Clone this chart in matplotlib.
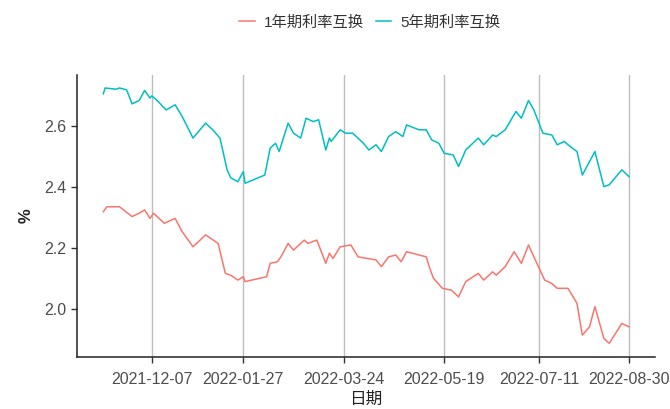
import matplotlib
matplotlib.use("Agg")
import matplotlib.pyplot as plt
import pandas as pd

plt.rcParams['font.family'] = ['Liberation Sans', 'Noto Sans CJK SC', 'DejaVu Sans']

# 1年期利率互换
dates_1y = ["2021-11-10", "2021-11-12", "2021-11-19", "2021-11-26", "2021-11-30", "2021-12-03",
            "2021-12-06", "2021-12-08", "2021-12-14", "2021-12-20", "2021-12-24", "2021-12-30",
            "2022-01-06", "2022-01-13", "2022-01-17", "2022-01-20", "2022-01-24", "2022-01-27",
            "2022-01-28", "2022-02-09", "2022-02-11", "2022-02-15", "2022-02-17", "2022-02-21",
            "2022-02-24", "2022-03-02", "2022-03-04", "2022-03-09", "2022-03-14", "2022-03-16",
            "2022-03-18", "2022-03-22", "2022-03-28", "2022-04-01", "2022-04-11", "2022-04-14",
            "2022-04-18", "2022-04-22", "2022-04-25", "2022-04-28", "2022-05-09", "2022-05-11",
            "2022-05-13", "2022-05-18", "2022-05-23", "2022-05-27", "2022-05-31", "2022-06-07",
            "2022-06-10", "2022-06-15", "2022-06-17", "2022-06-22", "2022-06-27", "2022-07-01",
            "2022-07-05", "2022-07-08", "2022-07-14", "2022-07-18", "2022-07-21", "2022-07-27",
            "2022-08-01", "2022-08-04", "2022-08-08", "2022-08-11", "2022-08-16", "2022-08-19",
            "2022-08-26", "2022-08-30"]
rate_1y = [2.319, 2.335, 2.335, 2.303, 2.314, 2.325,
           2.297, 2.314, 2.281, 2.297, 2.253, 2.204,
           2.243, 2.215, 2.117, 2.111, 2.095, 2.106,
           2.090, 2.106, 2.150, 2.155, 2.171, 2.215,
           2.193, 2.226, 2.215, 2.226, 2.150, 2.183,
           2.166, 2.204, 2.210, 2.171, 2.161, 2.139,
           2.171, 2.177, 2.155, 2.188, 2.171, 2.133,
           2.101, 2.068, 2.062, 2.040, 2.090, 2.117,
           2.095, 2.122, 2.111, 2.139, 2.188, 2.150,
           2.210, 2.171, 2.095, 2.084, 2.068, 2.068,
           2.019, 1.915, 1.942, 2.008, 1.904, 1.888,
           1.953, 1.942]

# 5年期利率互换
dates_5y = ["2021-11-10", "2021-11-11", "2021-11-17", "2021-11-19", "2021-11-23", "2021-11-26",
            "2021-11-30", "2021-12-03", "2021-12-06", "2021-12-07", "2021-12-10", "2021-12-15",
            "2021-12-20", "2021-12-24", "2021-12-30", "2022-01-06", "2022-01-10", "2022-01-14",
            "2022-01-18", "2022-01-20", "2022-01-24", "2022-01-27", "2022-01-28", "2022-02-08",
            "2022-02-11", "2022-02-14", "2022-02-16", "2022-02-21", "2022-02-24", "2022-02-28",
            "2022-03-03", "2022-03-07", "2022-03-10", "2022-03-14", "2022-03-16", "2022-03-17",
            "2022-03-22", "2022-03-25", "2022-03-29", "2022-04-04", "2022-04-07", "2022-04-11",
            "2022-04-14", "2022-04-18", "2022-04-22", "2022-04-26", "2022-04-28", "2022-05-05",
            "2022-05-09", "2022-05-12", "2022-05-16", "2022-05-19", "2022-05-24", "2022-05-27",
            "2022-05-31", "2022-06-07", "2022-06-10", "2022-06-15", "2022-06-17", "2022-06-22",
            "2022-06-28", "2022-07-01", "2022-07-05", "2022-07-08", "2022-07-13", "2022-07-18",
            "2022-07-21", "2022-07-25", "2022-07-27", "2022-08-01", "2022-08-04", "2022-08-08",
            "2022-08-11", "2022-08-16", "2022-08-19", "2022-08-26", "2022-08-30"]
rate_5y = [2.705, 2.724, 2.720, 2.724, 2.718, 2.672,
           2.683, 2.716, 2.691, 2.698, 2.683, 2.652,
           2.669, 2.630, 2.560, 2.609, 2.587, 2.560,
           2.456, 2.430, 2.417, 2.450, 2.412, 2.439,
           2.527, 2.543, 2.516, 2.609, 2.576, 2.560,
           2.625, 2.614, 2.620, 2.521, 2.560, 2.549,
           2.587, 2.576, 2.576, 2.543, 2.521, 2.538,
           2.516, 2.565, 2.581, 2.565, 2.603, 2.587,
           2.587, 2.554, 2.543, 2.510, 2.505, 2.467,
           2.521, 2.560, 2.538, 2.570, 2.565, 2.587,
           2.647, 2.625, 2.683, 2.652, 2.576, 2.570,
           2.538, 2.549, 2.538, 2.516, 2.439, 2.483,
           2.516, 2.401, 2.407, 2.456, 2.434]

tick_dates = ["2021-12-07", "2022-01-27", "2022-03-24", "2022-05-19", "2022-07-11", "2022-08-30"]

x1 = pd.to_datetime(dates_1y)
x5 = pd.to_datetime(dates_5y)
ticks = pd.to_datetime(tick_dates)

fig = plt.figure(figsize=(6.7, 4.09), dpi=100)
ax = fig.add_axes([0.115, 0.127, 0.863, 0.69])

# vertical grid at the date breaks
for t in ticks:
    ax.axvline(t, color='#bdbdbd', lw=1.0, zorder=0)

ax.plot(x1, rate_1y, color='#F8766D', lw=1.1, label='1年期利率互换')
ax.plot(x5, rate_5y, color='#00BFC4', lw=1.1, label='5年期利率互换')

xmin, xmax = x1.min(), x1.max()
pad = (xmax - xmin) * 0.05
ax.set_xlim(xmin - pad, xmax + pad)
ax.set_ylim(1.843, 2.767)

ax.set_xticks(ticks)
ax.set_xticklabels(tick_dates)
ax.set_yticks([2.0, 2.2, 2.4, 2.6])
ax.set_yticklabels(['2.0', '2.2', '2.4', '2.6'])

for s in ['top', 'right']:
    ax.spines[s].set_visible(False)
for s in ['left', 'bottom']:
    ax.spines[s].set_color('#222222')
    ax.spines[s].set_linewidth(1.1)
ax.tick_params(axis='both', length=4, width=1.0, color='#333333',
               labelcolor='#4d4d4d', labelsize=11.5)
ax.tick_params(axis='x', pad=7)

ax.set_xlabel('日期', fontsize=12, color='#222222', labelpad=3)
ax.set_ylabel('%', fontsize=12, color='#222222', fontweight='bold', labelpad=8)

fig.legend(loc='center', bbox_to_anchor=(0.552, 0.945), ncol=2, frameon=False,
           fontsize=11, handlelength=1.0, handletextpad=0.6, columnspacing=0.8,
           labelcolor='#333333')

fig.savefig('out.png', dpi=100)
